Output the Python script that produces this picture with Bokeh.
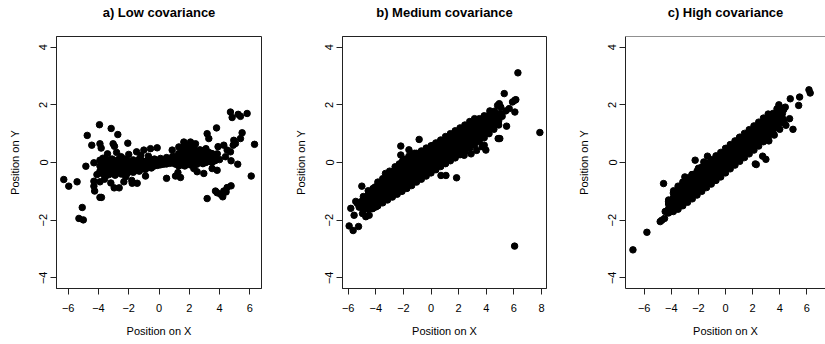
from bokeh.plotting import figure
from bokeh.layouts import row
from bokeh.models import FixedTicker, Range1d, Span, Title
from bokeh.embed import file_html
from bokeh.resources import INLINE

# ---------------- data ----------------
titles = ["a) Low covariance", "b) Medium covariance", "c) High covariance"]
x_label = "Position on X"
y_label = "Position on Y"
y_ticks = [-4, -2, 0, 2, 4]
a_x_ticks = [-6, -4, -2, 0, 2, 4, 6]
b_x_ticks = [-6, -4, -2, 0, 2, 4, 6, 8]
c_x_ticks = [-6, -4, -2, 0, 2, 4, 6]

# panel a: dense core, one x per column with the y values read in it
a_band_x = [-3.9, -3.7, -3.5, -3.3, -3.1, -2.9, -2.7, -2.5, -2.3, -2.1, -1.9, -1.7, -1.5, -1.3,
            -1.1, -0.9, -0.7, -0.5, -0.3, -0.1, 0.1, 0.3, 0.5, 0.7, 0.9, 1.1, 1.3, 1.5, 1.7,
            1.9, 2.1, 2.3, 2.5, 2.7, 2.9, 3.1, 3.3, 3.5, 3.7]
a_band_y = [[-0.3, -0.12, 0.08], [-0.4, -0.22, -0.05, 0.15], [-0.35, -0.2, -0.04, 0.1],
            [-0.42, -0.26, -0.1, 0.05], [-0.36, -0.2, -0.05, 0.12], [-0.44, -0.28, -0.13, 0.02],
            [-0.34, -0.19, -0.04, 0.1], [-0.4, -0.25, -0.1, 0.06, 0.2], [-0.33, -0.18, -0.03, 0.12],
            [-0.38, -0.23, -0.08, 0.07], [-0.3, -0.15, 0.0], [-0.34, -0.2, -0.06, 0.09],
            [-0.27, -0.12, 0.03], [-0.3, -0.16, -0.02, 0.12], [-0.21, -0.07, 0.06],
            [-0.24, -0.1, 0.03], [-0.16, -0.03, 0.1, 0.22], [-0.19, -0.06, 0.07],
            [-0.12, 0.0, 0.12], [-0.1, 0.03], [-0.08, 0.04, 0.14], [-0.06, 0.06],
            [-0.05, 0.07, 0.17], [-0.03, 0.09], [-0.02, 0.1, 0.21], [-0.06, 0.08, 0.2],
            [-0.12, 0.04, 0.18, 0.31], [-0.08, 0.06, 0.2, 0.35, 0.5],
            [-0.12, 0.04, 0.18, 0.32, 0.46, 0.6], [-0.05, 0.1, 0.25, 0.4, 0.55],
            [-0.09, 0.06, 0.2, 0.35, 0.5, 0.64], [-0.02, 0.12, 0.27, 0.42, 0.57],
            [-0.06, 0.1, 0.24, 0.38], [0.0, 0.15, 0.3, 0.44], [-0.04, 0.12, 0.27, 0.41],
            [0.0, 0.15, 0.3, 0.48], [0.04, 0.2, 0.35], [0.0, 0.16, 0.31], [0.06, 0.22]]
# panel a: scattered points
a_out_x = [-6.29, -5.96, -5.41, -5.07, -5.29, -5.0, -4.74, -4.83, -4.44, -4.3, -4.3, -4.3,
           -4.25, -4.1, -3.93, -3.9, -3.82, -3.9, -3.8, -3.9, -3.6, -3.5, -3.16, -3.03,
           -2.94, -2.72, -2.06, -3.18, -2.96, -2.63, -2.32, -1.77, -1.44, -2.2, -0.89, 0.5,
           1.09, 1.42, 1.25, -1.48, -1.0, -0.56, -0.12, 0.87, 1.31, 1.64, 2.08, 2.41, 3.18,
           3.29, 3.8, 3.18, 3.73, 3.84, 4.06, 4.21, 4.28, 4.43, 4.5, 4.76, 4.72, 4.83, 5.23,
           5.38, 5.82, 5.49, 5.38, 4.94, 4.9, 5.05, 4.28, 4.5, 4.72, 4.39, 4.76, 5.2, 6.31,
           6.09, 3.51, 3.84, 2.96, 2.52, 2.3, 3.9, 4.0, 3.85, -1.8, -3.4, -2.8, -2.0, -1.2]
a_out_y = [-0.59, -0.82, -0.67, -1.56, -1.94, -1.99, 0.94, -0.13, 0.6, -0.01, -0.65, -0.82,
           -0.99, -0.42, 1.31, 0.65, 0.5, -1.21, -1.21, -0.67, -0.58, -0.46, 1.18, 0.65,
           0.56, 0.97, 0.67, -0.71, -0.88, -0.88, -0.67, -0.72, -0.72, -0.49, -0.47, -0.55,
           -0.47, -0.52, -0.35, 0.37, 0.43, 0.48, 0.51, 0.43, 0.54, 0.71, 0.71, 0.65, 1.0,
           0.83, 1.2, -1.25, -0.99, -1.05, -1.1, -1.19, -0.99, -1.02, -0.87, -0.81, 1.75, 1.56,
           1.67, 1.6, 1.7, 1.03, 0.83, 0.77, 0.6, 0.66, 0.6, 0.43, 0.37, 0.2, 0.06, -0.06, 0.63,
           -0.47, -0.21, -0.27, -0.38, -0.32, -0.21, 0.55, 0.1, 0.3, -0.62, 0.3, 0.35, 0.28, 0.25]

# panel b: dense core
b_band_x = [-4.9, -4.55, -4.2, -3.85, -3.5, -3.15, -2.8, -2.45, -2.1, -1.75, -1.4, -1.05, -0.7,
            -0.35, 0.0, 0.35, 0.7, 1.05, 1.4, 1.75, 2.1, 2.45, 2.8, 3.15, 3.5, 3.85, 4.2,
            4.55, 4.9]
b_band_y = [[-1.65, -1.5, -1.33, -1.18], [-1.62, -1.45, -1.3, -1.14, -0.98],
            [-1.58, -1.4, -1.22, -1.06, -0.9], [-1.5, -1.32, -1.13, -0.97, -0.8, -0.68],
            [-1.4, -1.22, -1.04, -0.88, -0.72, -0.56], [-1.3, -1.12, -0.94, -0.78, -0.62, -0.46],
            [-1.2, -1.02, -0.85, -0.67, -0.51, -0.34], [-1.1, -0.92, -0.75, -0.58, -0.42, -0.24],
            [-1.0, -0.82, -0.64, -0.47, -0.31, -0.15, 0.02],
            [-0.9, -0.72, -0.54, -0.37, -0.21, -0.04, 0.12],
            [-0.8, -0.62, -0.44, -0.26, -0.1, 0.07, 0.22],
            [-0.68, -0.5, -0.33, -0.16, 0.0, 0.17, 0.32],
            [-0.58, -0.4, -0.22, -0.06, 0.1, 0.26, 0.4],
            [-0.47, -0.29, -0.11, 0.05, 0.21, 0.37, 0.5], [-0.36, -0.18, -0.01, 0.15, 0.31, 0.47, 0.58],
            [-0.25, -0.07, 0.1, 0.26, 0.42, 0.57, 0.68], [-0.14, 0.03, 0.2, 0.36, 0.52, 0.67, 0.78],
            [-0.04, 0.13, 0.3, 0.46, 0.62, 0.78, 0.9], [0.06, 0.23, 0.4, 0.56, 0.72, 0.88, 1.0],
            [0.16, 0.33, 0.5, 0.66, 0.82, 0.98, 1.1], [0.27, 0.44, 0.61, 0.78, 0.94, 1.08, 1.2],
            [0.38, 0.55, 0.72, 0.88, 1.04, 1.18, 1.3], [0.5, 0.67, 0.84, 1.0, 1.16, 1.3, 1.42],
            [0.6, 0.77, 0.94, 1.1, 1.26, 1.4, 1.52], [0.73, 0.9, 1.06, 1.22, 1.38, 1.52],
            [0.86, 1.03, 1.19, 1.35, 1.5, 1.62], [1.0, 1.17, 1.34, 1.5, 1.64], [1.15, 1.3, 1.46, 1.6],
            [1.3, 1.45, 1.6]]
b_out_x = [6.29, 7.88, 6.05, 5.3, 6.07, 6.14, 5.9, 5.66, 6.07, 5.47, 4.86, 4.98, 3.85, 3.97,
           4.26, 4.94, 4.82, 5.05, 5.41, -0.86, -2.19, -2.19, -1.6, 0.15, 1.85, 1.08, 0.72,
           -5.01, -4.05, -5.93, -5.64, -5.25, -5.81, -5.57, -5.33, -5.08, -4.96, -4.72, -4.48,
           -4.23, -3.99, -3.3, -3.0, -2.6, -2.3, -2.0, -1.6, -1.2, 4.35, 4.6, 4.75, 5.0, 5.15,
           4.5, 4.8, 4.4, 2.4, 2.9, 3.3, 3.7, -5.45, -5.2, -4.85, -4.6]
b_out_y = [3.11, 1.04, -2.9, 2.39, 2.16, 2.18, 2.1, 1.87, 1.75, 1.26, 0.83, 0.83, 0.6, 0.43,
           1.79, 2.04, 1.98, 1.92, 1.79, 0.8, 0.57, 0.26, 0.44, 0.59, -0.53, -0.45, -0.45,
           -0.82, -0.85, -2.2, -2.36, -2.22, -1.59, -1.83, -1.42, -1.36, -1.77, -1.88, -1.83,
           -1.6, -1.54, -0.38, -0.3, -0.15, -0.05, 0.12, 0.22, 0.32, 1.7, 1.78, 1.65, 1.7, 1.6,
           1.45, 1.4, 1.25, 0.25, 0.3, 0.42, 0.55, -1.35, -1.55, -1.3, -1.4]

# panel c: dense core
c_band_x = [-4.2, -3.85, -3.5, -3.15, -2.8, -2.45, -2.1, -1.75, -1.4, -1.05, -0.7, -0.35, 0.0,
            0.35, 0.7, 1.05, 1.4, 1.75, 2.1, 2.45, 2.8, 3.15, 3.5, 3.85, 4.2]
c_band_y = [[-1.75, -1.6, -1.44, -1.3], [-1.7, -1.54, -1.38, -1.22, -1.06],
            [-1.62, -1.45, -1.28, -1.12, -0.95, -0.82], [-1.5, -1.33, -1.16, -0.99, -0.82, -0.68],
            [-1.38, -1.21, -1.04, -0.87, -0.7, -0.55], [-1.26, -1.09, -0.92, -0.75, -0.58, -0.42],
            [-1.13, -0.96, -0.79, -0.62, -0.45, -0.3], [-1.0, -0.83, -0.66, -0.49, -0.32, -0.16],
            [-0.87, -0.7, -0.53, -0.36, -0.19, -0.03], [-0.75, -0.58, -0.41, -0.24, -0.07, 0.1],
            [-0.62, -0.45, -0.28, -0.11, 0.06, 0.23], [-0.5, -0.33, -0.16, 0.01, 0.18, 0.35],
            [-0.36, -0.19, -0.02, 0.15, 0.32, 0.49], [-0.22, -0.05, 0.12, 0.29, 0.46, 0.62],
            [-0.09, 0.08, 0.25, 0.42, 0.59, 0.75], [0.04, 0.21, 0.38, 0.55, 0.72, 0.88],
            [0.17, 0.34, 0.51, 0.68, 0.85, 1.01], [0.3, 0.47, 0.64, 0.81, 0.98, 1.14],
            [0.43, 0.6, 0.77, 0.94, 1.11, 1.27], [0.57, 0.74, 0.91, 1.08, 1.25, 1.4],
            [0.72, 0.89, 1.06, 1.23, 1.4, 1.54], [0.87, 1.04, 1.21, 1.38, 1.55, 1.68],
            [1.03, 1.2, 1.37, 1.53, 1.7], [1.2, 1.36, 1.52, 1.68, 1.84], [1.38, 1.54, 1.7, 1.86]]
c_out_x = [-6.83, -5.8, -4.82, -4.7, -4.5, -4.57, -3.83, -3.2, -4.2, -4.45, -2.24, -2.73, -2.48,
           -1.33, 1.03, 2.27, 2.2, 2.74, 2.98, 4.46, 4.98, 4.73, 5.4, 5.47, 6.16, 6.25, 4.29, 4.41,
           4.78, 3.94, 3.8, 3.2, 3.6, 4.0, 4.3, -3.0, -2.0, -1.6]
c_out_y = [-3.03, -2.42, -2.05, -2.0, -1.94, -0.73, -0.98, -0.79, -1.36, -1.7, 0.08, -0.54, -0.42,
           0.22, 0.86, -0.07, -0.05, 0.22, 0.11, 1.29, 1.15, 1.52, 1.98, 2.27, 2.52, 2.41, 1.83, 1.92,
           2.21, 2.0, 1.86, 0.75, 0.95, 1.15, 1.45, -0.5, -0.2, 0.02]


def expand(band_x, band_y, out_x, out_y):
    xs, ys = [], []
    for x, col in zip(band_x, band_y):
        for y in col:
            xs.append(x)
            ys.append(y)
    return xs + out_x, ys + out_y


FONT = "Liberation Sans"
MINUS = "\u2212"
Y_RANGE = (-4.37, 4.37)


def panel(title, xs, ys, xr, xticks, width, bl, br, right_edge=True, title_offset=0):
    p = figure(width=width, height=344, x_range=Range1d(*xr), y_range=Range1d(*Y_RANGE),
               output_backend="svg", toolbar_location=None, title=None,
               min_border_left=bl, min_border_right=br, min_border_top=36, min_border_bottom=56)
    # empty spacer title next to the frame, the real title stacked above it
    p.add_layout(Title(text=" ", text_font_size="13px", standoff=0), "above")
    p.add_layout(Title(text=title, align="center", offset=title_offset, standoff=0,
                       text_font=FONT, text_font_size="13px", text_font_style="bold",
                       text_color="black"), "above")
    p.grid.visible = False
    p.background_fill_color = "white"
    p.border_fill_color = "white"
    if right_edge:
        p.outline_line_color = "#222222"
    else:
        p.outline_line_color = None
        p.add_layout(Span(location=Y_RANGE[1], dimension="width", line_color="#222222", line_width=1))
    for ax, ticks in ((p.xaxis[0], xticks), (p.yaxis[0], y_ticks)):
        ax.ticker = FixedTicker(ticks=ticks)
        ax.major_label_overrides = {t: (MINUS + str(-t) if t < 0 else str(t)) for t in ticks}
        ax.major_tick_in = 0
        ax.major_tick_out = 6
        ax.minor_tick_line_color = None
        ax.axis_line_color = "#222222"
        ax.major_tick_line_color = "#222222"
        ax.major_label_text_font = FONT
        ax.major_label_text_font_size = "11px"
        ax.major_label_text_color = "black"
        ax.axis_label_text_font = FONT
        ax.axis_label_text_font_size = "11px"
        ax.axis_label_text_font_style = "normal"
        ax.axis_label_text_color = "black"
    p.xaxis.axis_label = x_label
    p.yaxis.axis_label = y_label
    p.xaxis.major_label_standoff = 9
    p.xaxis.axis_label_standoff = 10
    p.yaxis.major_label_orientation = "vertical"
    p.yaxis.major_label_standoff = 3
    p.yaxis.axis_label_standoff = 16
    p.scatter(xs, ys, size=6.5, color="black", line_color="black")
    return p


ax_, ay_ = expand(a_band_x, a_band_y, a_out_x, a_out_y)
bx_, by_ = expand(b_band_x, b_band_y, b_out_x, b_out_y)
cx_, cy_ = expand(c_band_x, c_band_y, c_out_x, c_out_y)

pa = panel(titles[0], ax_, ay_, (-6.77, 6.77), a_x_ticks, 285, 56, 24)
pb = panel(titles[1], bx_, by_, (-6.41, 8.36), b_x_ticks, 285, 57, 24)
pc = panel(titles[2], cx_, cy_, (-7.38, 7.38), c_x_ticks, 255, 55, 0, right_edge=False)

layout = row(pa, pb, pc)
open("out.html", "w").write(file_html(layout, INLINE))
